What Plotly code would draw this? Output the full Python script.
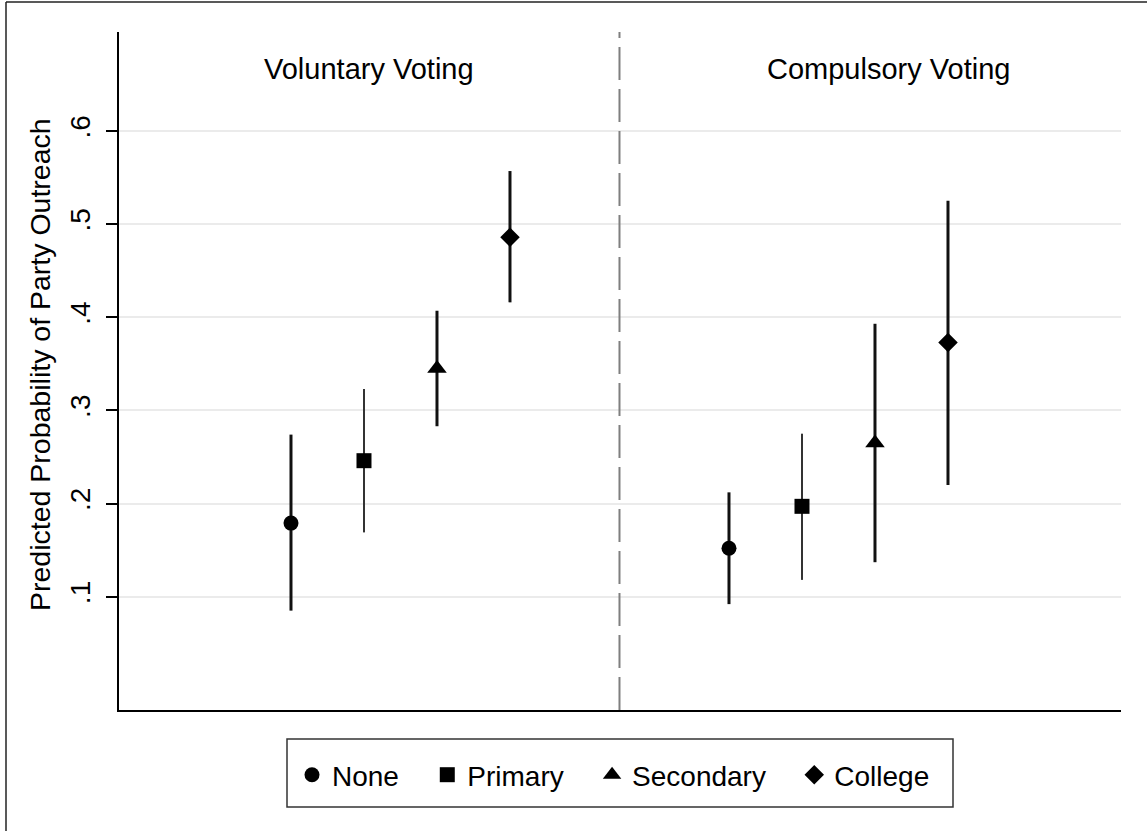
import plotly.graph_objects as go

# ---- data ----
regimes = ["Voluntary Voting", "Compulsory Voting"]
levels = ["None", "Primary", "Secondary", "College"]
symbols = ["circle", "square", "triangle-up", "diamond"]

# predicted probability [voluntary, compulsory]
estimate = {
    "None":      [0.179, 0.152],
    "Primary":   [0.246, 0.197],
    "Secondary": [0.345, 0.265],
    "College":   [0.486, 0.373],
}
lower = {
    "None":      [0.085, 0.092],
    "Primary":   [0.169, 0.118],
    "Secondary": [0.283, 0.137],
    "College":   [0.416, 0.220],
}
upper = {
    "None":      [0.274, 0.212],
    "Primary":   [0.323, 0.275],
    "Secondary": [0.407, 0.393],
    "College":   [0.557, 0.525],
}
yticks = [0.1, 0.2, 0.3, 0.4, 0.5, 0.6]
ytick_text = [".1", ".2", ".3", ".4", ".5", ".6"]

FONT = "Liberation Sans, Arial, Helvetica, sans-serif"
W, H = 1147, 831
L, R, T, B = 119, 26, 32, 121
NBSP = "\u00a0"

fig = go.Figure()
marker_sizes = {"circle": 15, "square": 15, "triangle-up": 17, "diamond": 15}
bar_widths = [3, 2, 3, 3]
bar_colors = ["#111111", "#333333", "#111111", "#111111"]
for i, (lvl, sym) in enumerate(zip(levels, symbols)):
    xs = [g * 6 + i + 1 for g in range(len(regimes))]
    ys = estimate[lvl]
    up = [u - y for u, y in zip(upper[lvl], ys)]
    dn = [y - l for l, y in zip(lower[lvl], ys)]
    fig.add_trace(go.Scatter(
        x=xs, y=ys, mode="markers", name=lvl + NBSP * 3,
        marker=dict(symbol=sym, size=marker_sizes[sym], color="black",
                    line=dict(width=0)),
        error_y=dict(type="data", symmetric=False, array=up, arrayminus=dn,
                     color=bar_colors[i], thickness=bar_widths[i], width=0),
    ))

# plot geometry helpers (paper coordinates from pixels)
def px(x):
    return (x - L) / (W - L - R)

def py(y):
    return (H - B - y) / (H - T - B)

shapes = [
    # dashed divider between the two panels
    dict(type="line", xref="x", yref="paper", x0=5.5, x1=5.5, y0=0, y1=1,
         line=dict(color="#7f7f7f", width=2, dash="33px,9px"), layer="above"),
    # outer frame (top and left edges)
    dict(type="line", xref="paper", yref="paper", x0=px(6), x1=px(1160),
         y0=py(2), y1=py(2), line=dict(color="#222222", width=1.5)),
    dict(type="line", xref="paper", yref="paper", x0=px(6), x1=px(6),
         y0=py(2), y1=py(840), line=dict(color="#222222", width=1.5)),
    # legend frame
    dict(type="rect", xref="paper", yref="paper", x0=px(287), x1=px(953),
         y0=py(739), y1=py(807), line=dict(color="#333333", width=1.5),
         fillcolor="rgba(0,0,0,0)"),
]

annotations = [
    dict(text=regimes[0], xref="paper", yref="paper", x=px(262), y=py(69),
         xanchor="left", yanchor="middle", showarrow=False,
         font=dict(size=29, color="black", family=FONT)),
    dict(text=regimes[1], xref="paper", yref="paper", x=px(765), y=py(69),
         xanchor="left", yanchor="middle", showarrow=False,
         font=dict(size=29, color="black", family=FONT)),
    # y-axis title
    dict(text="Predicted Probability of Party Outreach", xref="paper",
         yref="paper", x=px(40), y=py(365), xanchor="center",
         yanchor="middle", textangle=-90, showarrow=False,
         font=dict(size=28.5, color="black", family=FONT)),
]

fig.update_layout(
    width=W, height=H,
    margin=dict(l=L, r=R, t=T, b=B, pad=0),
    paper_bgcolor="white", plot_bgcolor="white",
    font=dict(family=FONT, color="black"),
    shapes=shapes, annotations=annotations,
    showlegend=True,
    legend=dict(orientation="h", x=px(292), xanchor="left", y=py(775),
                yanchor="middle", font=dict(size=28, family=FONT, color="black"),
                borderwidth=0, bgcolor="rgba(0,0,0,0)",
                itemwidth=30, tracegroupgap=0),
    xaxis=dict(range=[-1.356, 12.370], showgrid=False, zeroline=False,
               showticklabels=False, ticks="", showline=True,
               linecolor="black", linewidth=1.5, mirror=False, fixedrange=True),
    yaxis=dict(range=[-0.0217, 0.7063], tickvals=yticks, ticktext=ytick_text,
               tickangle=-90, ticks="outside", ticklen=11, tickwidth=1.5,
               tickcolor="black", showline=True, linecolor="black",
               linewidth=1.5, showgrid=True, gridcolor="#ebebeb", gridwidth=2,
               zeroline=False, tickfont=dict(size=28, family=FONT),
               ticklabelstandoff=5),
)

fig.write_html("out.html")
